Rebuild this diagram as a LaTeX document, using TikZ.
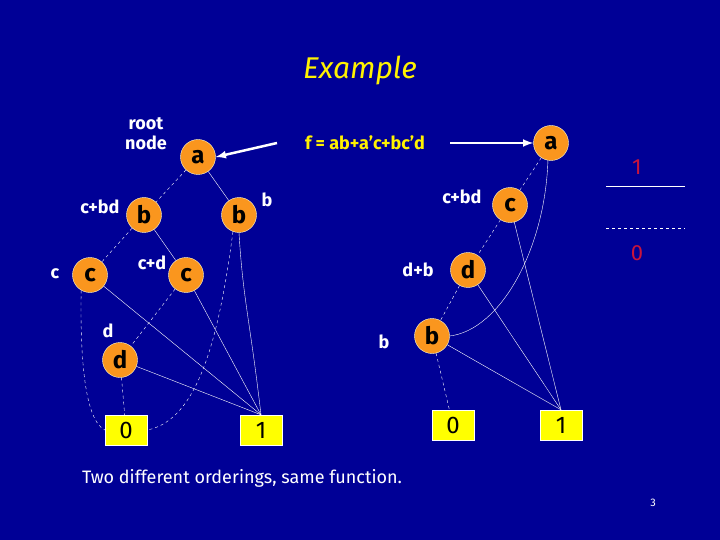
\documentclass[tikz,border=0pt]{standalone}
\usepackage{fontspec}
\setmainfont{Fira Sans}
\usetikzlibrary{positioning}
\definecolor{slide}{RGB}{0,0,150}
\definecolor{bddnode}{RGB}{250,150,30}
\definecolor{leafbox}{RGB}{255,255,0}
\definecolor{legend}{RGB}{200,20,60}
\begin{document}
\begin{tikzpicture}[x=1pt,y=-1pt,>=latex,
    var/.style={circle,draw=white!80!yellow,fill=bddnode,minimum size=35pt,inner sep=0pt,font=\fontsize{24}{26}\selectfont\bfseries},
    leaf/.style={draw=white,fill=leafbox,minimum width=42pt,minimum height=30pt,inner sep=0pt,font=\fontsize{24}{26}\selectfont},
    lbl/.style={text=white,font=\fontsize{18}{20}\selectfont\bfseries,inner sep=0pt},
    hi/.style={draw=white,thin},
    lo/.style={draw=white,thin,dashed}]
  \fill[slide] (0,0) rectangle (720,540);
  \useasboundingbox (0,0) rectangle (720,540);
  \node[text=yellow,font=\fontsize{30}{32}\selectfont\itshape] (title) at (360,70) {Example};
  % first ordering
  \node[var] (a1) at (198,157) {a};
  \node[var] (b1) at (144,215) {b};
  \node[var] (b2) at (239,215) {b};
  \node[var] (c1) at (90,275) {c};
  \node[var] (c2) at (186,275) {c};
  \node[var] (d1) at (120,360) {d};
  \node[leaf] (z1) at (126,430) {0};
  \node[leaf] (o1) at (261,430) {1};
  \node[lbl,align=center] (root) at (146,134) {root\\node};
  \node[lbl] at (100,207) {c+bd};
  \node[lbl] at (267,200) {b};
  \node[lbl] at (55,274) {c};
  \node[lbl] at (152,263) {c+d};
  \node[lbl] at (108,331) {d};
  % second ordering
  \node[var] (a2) at (551,143) {a};
  \node[var] (c3) at (510,205) {c};
  \node[var] (d2) at (468,270) {d};
  \node[var] (b3) at (432,336) {b};
  \node[leaf] (z2) at (453,425) {0};
  \node[leaf] (o2) at (561,425) {1};
  \node[lbl] at (462,197) {c+bd};
  \node[lbl] at (418,270) {d+b};
  \node[lbl] at (384,342) {b};
  % function
  \node[text=yellow,font=\fontsize{18}{20}\selectfont\bfseries] (fn) at (365,143) {f = ab+a’c+bc’d};
  \coordinate (fl) at (277,143);
  \coordinate (fr) at (450,143);
  \draw[->,white,line width=2.5pt] (fl) -- (a1.east);
  \draw[->,white,line width=2.5pt] (fr) -- (a2.west);
  % edges
  \draw[lo] (a1) -- (b1);
  \draw[hi] (a1) -- (b2);
  \draw[lo] (b1) -- (c1);
  \draw[hi] (b1) -- (c2);
  \draw[lo] (b2.250) .. controls (220,330) and (200,420) .. (z1.east);
  \draw[hi] (b2.270) .. controls (243,300) and (250,320) .. (o1.north);
  \draw[lo] (c1.240) .. controls (80,360) and (85,420) .. (z1.west);
  \draw[hi] (c1) -- (o1.north);
  \draw[lo] (c2) -- (d1);
  \draw[hi] (c2) -- (o1.north);
  \draw[lo] (d1) -- (z1);
  \draw[hi] (d1) -- (o1.north);
  \draw[lo] (a2) -- (c3);
  \draw[hi] (a2.260) .. controls (545,250) and (500,330) .. (b3.east);
  \draw[lo] (c3) -- (d2);
  \draw[hi] (c3) -- (o2.north);
  \draw[lo] (d2) -- (b3);
  \draw[hi] (d2) -- (o2.north);
  \draw[lo] (b3) -- (z2);
  \draw[hi] (b3) -- (o2.north);
  % legend
  \node[text=legend,font=\fontsize{22}{24}\selectfont] (one) at (637,167) {1};
  \coordinate (s1) at (606,186); \coordinate (s2) at (685,186);
  \draw[hi] (s1) -- (s2);
  \coordinate (t1) at (606,228); \coordinate (t2) at (685,228);
  \draw[lo] (t1) -- (t2);
  \node[text=legend,font=\fontsize{22}{24}\selectfont] (zero) at (637,253) {0};
  \node[text=white,font=\fontsize{18}{20}\selectfont] (cap) at (242,478) {Two different orderings, same function.};
  \node[text=white,font=\fontsize{11}{13}\selectfont] (page) at (653,503) {3};
\end{tikzpicture}
\end{document}
